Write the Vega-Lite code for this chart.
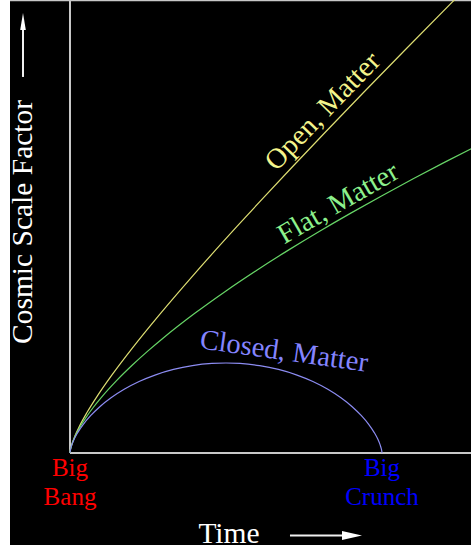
{
  "$schema": "https://vega.github.io/schema/vega-lite/v6.json",
  "width": 461,
  "height": 545,
  "autosize": "none",
  "padding": {"left": 10, "top": 0, "right": 0, "bottom": 3},
  "background": "white",
  "config": {"view": {"fill": "black", "stroke": null}},
  "encoding": {
    "x": {"field": "t", "type": "quantitative", "scale": {"domain": [-1.923, 12.853], "nice": false, "zero": false}, "axis": null},
    "y": {"field": "a", "type": "quantitative", "scale": {"domain": [-1.022, 5.033], "nice": false, "zero": false}, "axis": null}
  },
  "layer": [
    {
      "data": {"values": [
        {"t": 0, "a": 0, "t2": 0, "a2": 5.033},
        {"t": 0, "a": 0, "t2": 12.853, "a2": 0},
        {"t": -1.923, "a": 5.03, "t2": 12.853, "a2": 5.03}
      ]},
      "mark": {"type": "rule", "color": "#c8c8c8", "strokeWidth": 2},
      "encoding": {"x2": {"field": "t2"}, "y2": {"field": "a2"}}
    },
    {
      "data": {"values": [
        {"t": -1.506, "a": 4.178, "t2": -1.506, "a2": 4.75},
        {"t": 7.051, "a": -0.917, "t2": 8.814, "a2": -0.917}
      ]},
      "mark": {"type": "rule", "color": "#f0f0f0", "strokeWidth": 2},
      "encoding": {"x2": {"field": "t2"}, "y2": {"field": "a2"}}
    },
    {
      "data": {"values": [{"t": -1.506, "a": 4.794}]},
      "mark": {"type": "point", "filled": true, "color": "#ffffff", "opacity": 1, "shape": "M0,-1L0.33,1L-0.33,1Z", "size": 289}
    },
    {
      "data": {"values": [{"t": 9.038, "a": -0.917}]},
      "mark": {"type": "point", "filled": true, "color": "#ffffff", "opacity": 1, "shape": "M1,0L-1,0.45L-1,-0.45Z", "size": 400}
    },
    {
      "data": {"values": [
        {"series": "Open", "t": 0, "a": 0},
        {"series": "Open", "t": 0.0003, "a": 0.0028},
        {"series": "Open", "t": 0.0023, "a": 0.0111},
        {"series": "Open", "t": 0.0079, "a": 0.025},
        {"series": "Open", "t": 0.0187, "a": 0.0447},
        {"series": "Open", "t": 0.0368, "a": 0.0704},
        {"series": "Open", "t": 0.0639, "a": 0.1023},
        {"series": "Open", "t": 0.1536, "a": 0.1862},
        {"series": "Open", "t": 0.3054, "a": 0.2997},
        {"series": "Open", "t": 0.5395, "a": 0.4473},
        {"series": "Open", "t": 0.8792, "a": 0.6351},
        {"series": "Open", "t": 1.352, "a": 0.8704},
        {"series": "Open", "t": 1.9912, "a": 1.1629},
        {"series": "Open", "t": 2.8361, "a": 1.5242},
        {"series": "Open", "t": 3.9348, "a": 1.9688},
        {"series": "Open", "t": 5.3454, "a": 2.5145},
        {"series": "Open", "t": 6.1891, "a": 2.832},
        {"series": "Open", "t": 7.1383, "a": 3.1833},
        {"series": "Open", "t": 8.2044, "a": 3.5721},
        {"series": "Open", "t": 9.3997, "a": 4.0021},
        {"series": "Open", "t": 10.738, "a": 4.4776},
        {"series": "Open", "t": 12.2342, "a": 5.0033},
        {"series": "Open", "t": 13.0468, "a": 5.287},
        {"series": "Flat", "t": 0, "a": 0},
        {"series": "Flat", "t": 0.01, "a": 0.0286},
        {"series": "Flat", "t": 0.03, "a": 0.0595},
        {"series": "Flat", "t": 0.06, "a": 0.0944},
        {"series": "Flat", "t": 0.1, "a": 0.1327},
        {"series": "Flat", "t": 0.2, "a": 0.2107},
        {"series": "Flat", "t": 0.35, "a": 0.3059},
        {"series": "Flat", "t": 0.5, "a": 0.3881},
        {"series": "Flat", "t": 0.75, "a": 0.5085},
        {"series": "Flat", "t": 1, "a": 0.616},
        {"series": "Flat", "t": 1.5, "a": 0.8072},
        {"series": "Flat", "t": 2, "a": 0.9778},
        {"series": "Flat", "t": 2.5, "a": 1.1347},
        {"series": "Flat", "t": 3, "a": 1.2813},
        {"series": "Flat", "t": 4, "a": 1.5522},
        {"series": "Flat", "t": 5, "a": 1.8012},
        {"series": "Flat", "t": 6, "a": 2.034},
        {"series": "Flat", "t": 7, "a": 2.2541},
        {"series": "Flat", "t": 8, "a": 2.464},
        {"series": "Flat", "t": 9, "a": 2.6653},
        {"series": "Flat", "t": 10, "a": 2.8592},
        {"series": "Flat", "t": 11, "a": 3.0468},
        {"series": "Flat", "t": 12, "a": 3.2288},
        {"series": "Flat", "t": 12.86, "a": 3.3813},
        {"series": "Closed", "t": 0, "a": 0},
        {"series": "Closed", "t": 0.0003, "a": 0.0025},
        {"series": "Closed", "t": 0.0021, "a": 0.01},
        {"series": "Closed", "t": 0.0071, "a": 0.0223},
        {"series": "Closed", "t": 0.0168, "a": 0.0395},
        {"series": "Closed", "t": 0.0327, "a": 0.0612},
        {"series": "Closed", "t": 0.0563, "a": 0.0873},
        {"series": "Closed", "t": 0.1315, "a": 0.1516},
        {"series": "Closed", "t": 0.2523, "a": 0.2298},
        {"series": "Closed", "t": 0.4265, "a": 0.3188},
        {"series": "Closed", "t": 0.6598, "a": 0.415},
        {"series": "Closed", "t": 0.9556, "a": 0.5146},
        {"series": "Closed", "t": 1.3149, "a": 0.6136},
        {"series": "Closed", "t": 1.7359, "a": 0.7081},
        {"series": "Closed", "t": 2.2147, "a": 0.7943},
        {"series": "Closed", "t": 2.7447, "a": 0.8687},
        {"series": "Closed", "t": 3.3176, "a": 0.9284},
        {"series": "Closed", "t": 3.9232, "a": 0.9711},
        {"series": "Closed", "t": 4.5501, "a": 0.995},
        {"series": "Closed", "t": 5, "a": 1},
        {"series": "Closed", "t": 5.4499, "a": 0.995},
        {"series": "Closed", "t": 6.0768, "a": 0.9711},
        {"series": "Closed", "t": 6.6824, "a": 0.9284},
        {"series": "Closed", "t": 7.2553, "a": 0.8687},
        {"series": "Closed", "t": 7.7853, "a": 0.7943},
        {"series": "Closed", "t": 8.2641, "a": 0.7081},
        {"series": "Closed", "t": 8.6851, "a": 0.6136},
        {"series": "Closed", "t": 9.0444, "a": 0.5146},
        {"series": "Closed", "t": 9.3402, "a": 0.415},
        {"series": "Closed", "t": 9.5735, "a": 0.3188},
        {"series": "Closed", "t": 9.7477, "a": 0.2298},
        {"series": "Closed", "t": 9.8685, "a": 0.1516},
        {"series": "Closed", "t": 9.9437, "a": 0.0873},
        {"series": "Closed", "t": 9.9673, "a": 0.0612},
        {"series": "Closed", "t": 9.9832, "a": 0.0395},
        {"series": "Closed", "t": 9.9929, "a": 0.0223},
        {"series": "Closed", "t": 9.9979, "a": 0.01},
        {"series": "Closed", "t": 9.9997, "a": 0.0025},
        {"series": "Closed", "t": 10, "a": 0}
      ]},
      "mark": {"type": "line", "interpolate": "monotone", "strokeWidth": 1.2, "clip": true},
      "encoding": {
        "color": {"field": "series", "type": "nominal", "scale": {"domain": ["Open", "Flat", "Closed"], "range": ["#dede72", "#66d466", "#8c8cf2"]}, "legend": null}
      }
    },
    {
      "data": {"values": [{"t": -1.218, "a": 2.567, "label": "Cosmic Scale Factor"}]},
      "mark": {"type": "text", "font": "Liberation Serif", "fontSize": 29.5, "color": "#ffffff", "angle": 270, "align": "center", "baseline": "alphabetic"},
      "encoding": {"text": {"field": "label"}}
    },
    {
      "data": {"values": [{"t": 5.096, "a": -1.0, "label": "Time"}]},
      "mark": {"type": "text", "font": "Liberation Serif", "fontSize": 29.5, "color": "#ffffff", "align": "center", "baseline": "alphabetic"},
      "encoding": {"text": {"field": "label"}}
    },
    {
      "data": {"values": [
        {"t": 0, "a": -0.26, "label": "Big"},
        {"t": 0, "a": -0.575, "label": "Bang"}
      ]},
      "mark": {"type": "text", "font": "Liberation Serif", "fontSize": 25, "color": "#ff0000", "align": "center", "baseline": "alphabetic"},
      "encoding": {"text": {"field": "label"}}
    },
    {
      "data": {"values": [
        {"t": 10, "a": -0.26, "label": "Big"},
        {"t": 10, "a": -0.575, "label": "Crunch"}
      ]},
      "mark": {"type": "text", "font": "Liberation Serif", "fontSize": 25, "color": "#0000ff", "align": "center", "baseline": "alphabetic"},
      "encoding": {"text": {"field": "label"}}
    },
    {
      "data": {"values": [{"t": 8.093, "a": 3.8, "label": "Open, Matter"}]},
      "mark": {"type": "text", "font": "Liberation Serif", "fontSize": 28.5, "color": "#f4f48c", "angle": 314, "align": "center", "baseline": "middle"},
      "encoding": {"text": {"field": "label"}}
    },
    {
      "data": {"values": [{"t": 8.59, "a": 2.778, "label": "Flat, Matter"}]},
      "mark": {"type": "text", "font": "Liberation Serif", "fontSize": 28.5, "color": "#8cf08c", "angle": 330, "align": "center", "baseline": "middle"},
      "encoding": {"text": {"field": "label"}}
    },
    {
      "data": {"values": [{"t": 6.859, "a": 1.133, "label": "Closed, Matter"}]},
      "mark": {"type": "text", "font": "Liberation Serif", "fontSize": 28.5, "color": "#8484ff", "angle": 8, "align": "center", "baseline": "middle"},
      "encoding": {"text": {"field": "label"}}
    }
  ]
}
